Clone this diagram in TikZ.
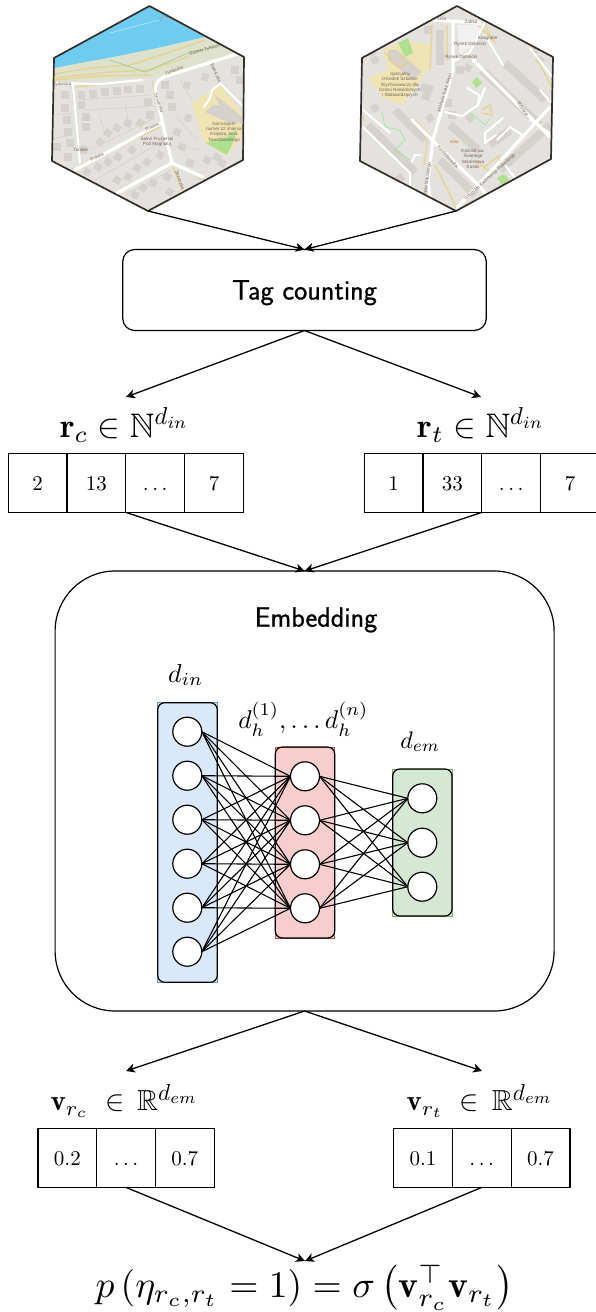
\documentclass[tikz,border=0pt]{standalone}
\usepackage{amsmath,amssymb}
\usepackage{fontspec}
\newfontfamily\mapfont{Liberation Sans}
\newfontfamily\labfont[FakeBold=0.8]{Latin Modern Sans}
\usetikzlibrary{arrows.meta,calc}
\definecolor{landc}{HTML}{E4E2DE}
\definecolor{bldc}{HTML}{D5D1CC}
\definecolor{waterc}{HTML}{6FCBF0}
\definecolor{stripc}{HTML}{DEE2CC}
\definecolor{schoolc}{HTML}{F0E4B4}
\definecolor{pitchc}{HTML}{AEE08F}
\definecolor{pathc}{HTML}{E6D28A}
\definecolor{parcelc}{HTML}{CFCCC4}
\definecolor{mapborder}{HTML}{332F2B}
\definecolor{maptext}{HTML}{7A6658}
\definecolor{bluefill}{HTML}{DAE8FC}
\definecolor{blueline}{HTML}{6C8EBF}
\definecolor{redfill}{HTML}{F8CECC}
\definecolor{redline}{HTML}{B85450}
\definecolor{greenfill}{HTML}{D5E8D4}
\definecolor{greenline}{HTML}{82B366}
\newcommand{\supin}{\scalebox{0.72}{$d_{in}$}}
\newcommand{\supem}{\scalebox{0.8}{$d_{em}$}}
\tikzset{
  x=1pt,y=-1pt,
  conn/.style={line width=1.3pt,-{Stealth[length=9pt,width=9pt,inset=2.5pt]}},
  cell/.style={draw,line width=1.2pt,minimum width=58.8pt,minimum height=58.8pt,inner sep=0,outer sep=0},
  cellnum/.style={scale=2.1,anchor=base,inner sep=0,outer sep=0},
  bigbox/.style={draw,line width=1.2pt,inner sep=0,outer sep=0},
  mathlab/.style={inner sep=0,outer sep=0},
  seclab/.style={inner sep=0,outer sep=0,anchor=base,font=\fontsize{28}{32}\labfont},
  neuron/.style={circle,draw,fill=white,line width=1.2pt,minimum size=29pt,inner sep=0,outer sep=0},
  synapse/.style={line width=1.1pt},
  road/.style={white,line width=3.2pt,line join=round,line cap=round},
  thinroad/.style={white,line width=2pt,line join=round,line cap=round},
  yroad/.style={pathc,line width=1.5pt,dash pattern=on 1.2pt off 0.5pt},
  parcel/.style={parcelc,line width=0.4pt},
  maplab/.style={text=maptext,inner sep=0,outer sep=0,font=\fontsize{4.6}{5.4}\mapfont,align=center},
  hexline/.style={mapborder,line width=1.7pt,line join=round},
  wide/.style={bldc,line width=8pt},
  panelrim/.style={line width=1.2pt,rounded corners=7pt}
}
\newcommand{\mybld}[3]{\fill[bldc,shift={(#1,#2)},rotate=#3] (-3.6,-3.6) rectangle (3.6,3.6);}
\begin{document}
\begin{tikzpicture}
\useasboundingbox (0,0) rectangle (595,1312);
\fill[white] (0,0) rectangle (595,1312);

% ---- Map 1
\begin{scope}
\clip (149.5,6) -- (244,57) -- (243,160) -- (148,211) -- (52,161) -- (54,58) -- cycle;
\fill[landc] (40,0) rectangle (250,215);
\fill[stripc] (50,68) -- (80,63) -- (113,57) -- (157,48) -- (205,37) -- (240,55) -- (165,76) -- (150,78) -- (50,82) -- cycle;
\fill[waterc] (50,69) -- (54,68) -- (80,63) -- (113,57) -- (157,48) -- (205,37) -- (149.5,0) -- (50,50) -- cycle;
\draw[white!70!waterc,line width=0.4pt] (110,33) -- (190,12);
\foreach \a/\b/\r in {81.7/95/0,81.7/105/0,93/94/0,105/92/0,117/91/0,128/89.5/0,140/89/0,86/117/0,86/127/0,108/133/-30,117/128/-30,128/123/-30,140/123/-30,150/115/0,148/102/0,100/142/-30,65/108/0,67/120/0,68/132/0,70/143/0,68/157/0,57/147/0,65/95/0,83/150/0,
 87/172/-30,98/167/-30,108/162/-30,118/157/-30,132/150/-30,147/162/-30,137/168/-30,160/155/-30,117/180/-30,128/177/-30,143/188/-30,153/183/-30,167/177/-30,135/195/-30,170/192/-30,
 165/85/0,170/95/0,172/107/0,187/85/-10,205/77/-10,188/118/-20,177/132/-20,182/147/-20,190/163/-20,207/160/-30,217/157/-30,222/163/-30,235/70/0,240/80/0}
 {\mybld{\a}{\b}{\r}}
\draw[parcel] (78,100) -- (150,95) (85,110) -- (155,106) (90,150) -- (155,118) (100,115) -- (105,135) (125,102) -- (130,130) (55,115) -- (72,113) (55,138) -- (72,135) (95,180) -- (165,140) (125,195) -- (172,170) (175,115) -- (197,140) (170,145) -- (200,150) (180,80) -- (192,100);
\fill[schoolc] (192,103) -- (220,85) -- (242,113) -- (242,137) -- (227,157) -- (203,140) -- cycle;
\fill[pitchc] (206,143) -- (222,137) -- (237,130) -- (233,142) -- (227,155) -- cycle;
\draw[schoolc,line width=1pt] (215,141) -- (235,133);
\fill[bldc] (213,93) -- (242,117) -- (242,123) -- (230,123) -- (205,112) -- (213,105) -- (220,105) -- cycle;
\draw[thinroad] (220,84) -- (212,90) -- (210,98) -- (204,107);
\draw[yroad] (54,74) -- (90,68) -- (130,65) -- (170,52) -- (205,40);
\draw[yroad] (54,78) -- (110,72) -- (150,70) -- (190,56);
\draw[yroad] (54,80) -- (100,76) -- (150,75);
\draw[green!45!black!45!white,line width=0.5pt] (110,60) -- (145,72) -- (190,52) -- (215,47);
\draw[yroad] (152,80) -- (158,105) (75,87) -- (95,85) (173,167) -- (182,190) (197,178) -- (205,180) (80,165) -- (160,127) (120,190) -- (170,165);
\draw[road] (240,53) -- (170,75) .. controls (158,78) and (154,84) .. (156,92) -- (163,125) -- (172,163) -- (203,177);
\draw[road] (75,170) -- (161,123);
\draw[road] (172,163) -- (117,193);
\draw[thinroad] (55,83) -- (100,84) -- (142,80);
\draw[thinroad] (73,85) -- (80,163);
\draw[thinroad] (220,83) -- (244,107);
\node[maplab,rotate=17] (m1a) at (205,50) {Bulwar Tyniecki};
\node[maplab,rotate=20] (m1b) at (174,71) {Tyniecka};
\node[maplab] (m1c) at (62,84) {Tyniecka};
\node[maplab,rotate=-65] (m1d) at (216,73) {Sawiczka};
\node[maplab,rotate=-72] (m1e) at (159,103) {Sewerzka};
\node[maplab,rotate=28] (m1f) at (97,157) {Praska};
\node[maplab,rotate=28] (m1g) at (152,127) {Praska};
\node[maplab,rotate=-70] (m1h) at (180,180) {Sewerzka};
\node[maplab] (m1i) at (81,150) {Tooiner};
\node[maplab] (m1j) at (157,142) {Salon Fryzjerski\\Pod Magnolią};
\node[maplab] (m1k) at (224,132) {Gimnazjum\\numer 22 imienia\\Księdza Jana\\Twardowskiego};
\node[maplab,rotate=15,text=waterc!50!maptext] (m1l) at (165,18) {Wisła};
\end{scope}
\draw[hexline] (149.5,6) -- (244,57) -- (243,160) -- (148,211) -- (52,161) -- (54,58) -- cycle;
\coordinate (hexa) at (148,211);

% ---- Map 2
\begin{scope}
\clip (457,6) -- (553,57) -- (551,159) -- (456,211) -- (360,161) -- (362,58) -- cycle;
\fill[landc] (350,0) rectangle (560,215);
\fill[schoolc] (383,50) -- (403,40) -- (430,45) -- (430,67) -- (403,105) -- (383,98) -- (368,78) -- (388,70) -- cycle;
\fill[pitchc] (398,43) -- (408,38) -- (413,53) -- (405,57) -- cycle;
\fill[bldc] (388,50) -- (397,50) -- (422,72) -- (413,80) -- (388,60) -- cycle;
\fill[pitchc] (472,82) -- (477,77) -- (482,83) -- (476,88) -- cycle;
\fill[pitchc] (497,178) -- (504,174) -- (509,180) -- (502,185) -- cycle;
\fill[blue!3!landc!40!white] (457,25) -- (482,24) -- (475,43) -- (460,55) -- cycle;
\draw[wide] (368,125) -- (415,172);
\draw[wide] (395,110) -- (425,140);
\draw[wide] (482,70) -- (540,125);
\draw[wide] (505,63) -- (545,100);
\draw[wide] (440,160) -- (475,195);
\draw[wide] (440,30) -- (440,65);
\draw[wide] (500,170) -- (550,125);
\draw[wide] (450,125) -- (478,150);
\draw[wide] (510,130) -- (490,145);
\draw[wide] (430,85) -- (425,100);
\foreach \a/\b/\r in {375/60/30,372/52/30,428/30/0,405/30/30,468/68/-30,460/70/0,425/88/0,430/118/30,448/103/0,540/60/60,535/50/60,470/118/40,452/115/0,375/108/30,400/178/30,395/195/0}
 {\mybld{\a}{\b}{\r}}
\draw[green!40!landc,line width=0.5pt] (382,112) -- (385,127) -- (400,130) -- (405,140) -- (395,150) -- (410,160) (470,112) -- (485,125) -- (490,118);
\draw[yroad] (432,25) -- (430,70) (447,25) -- (447,60) (485,25) -- (490,35) -- (493,40) -- (478,25) (530,45) -- (553,90) (415,120) -- (480,188) (428,135) -- (424,165) (435,165) -- (450,195) -- (456,208) (483,168) -- (500,155) (475,160) -- (490,172) -- (500,158) (482,110) -- (490,105) -- (492,115) -- (482,113) (400,55) -- (406,65) (362,115) -- (364,120) (384,52) -- (400,68) -- (408,62);
\draw[road] (433,20) -- (480,23) (453,23) -- (453,70) -- (433,140) -- (428,180) -- (432,215);
\draw[road] (473,60) -- (550,137);
\draw[road] (412,120) -- (480,187) -- (487,195);
\draw[road] (550,107) -- (457,208);
\draw[thinroad] (453,62) -- (470,52) -- (484,24);
\draw[thinroad] (530,48) -- (553,78);
\draw[thinroad] (363,127) -- (410,173) -- (410,195);
\draw[thinroad] (363,110) -- (390,133);
\draw[thinroad] (503,118) -- (485,133) -- (485,143) -- (496,135) (510,127) -- (497,140) (510,127) -- (522,135) (485,88) -- (478,105) -- (462,116) -- (445,112);
\draw[thinroad] (485,35) -- (500,60) -- (503,65);
\draw[thinroad] (540,90) -- (553,105) (530,120) -- (553,135);
\draw[thinroad] (467,88) -- (479,95) -- (478,105) (420,155) -- (415,155) -- (412,162);
\draw[thinroad] (505,165) -- (515,178);
\node[maplab] (m2a) at (471,22) {Żabka};
\node[maplab] (m2b) at (442,19) {Lisa};
\node[maplab] (m2c) at (470,44.5) {Rynek Dębnicki};
\node[maplab] (m2c2) at (461,57.5) {Rynek Dębnicki};
\node[maplab] (m2d) at (488,38.5) {Kaligrafer};
\node[maplab] (m2e) at (400,85) {Specjalny\\Ośrodek Szkolno-\\Wychowawczy dla\\Dzieci Niewidomych\\i Słabowidzących};
\node[maplab,rotate=73] (m2f) at (445,93) {Michała Bałuckiego};
\node[maplab,rotate=-52] (m2g) at (523,109) {Różana};
\node[maplab,text=orange!70!maptext] (m2h) at (454,141.5) {Vola};
\node[maplab] (m2i) at (473,159) {Kościół pw.\\Świętego\\Stanisława\\Kostki};
\node[maplab,rotate=-47] (m2j) at (448,157) {Konfederacka};
\node[maplab,rotate=42] (m2k) at (490,177) {Generała Kazimierza Pułaskiego};
\node[maplab,rotate=82] (m2l) at (427,182) {Michała Bałuckiego};
\end{scope}
\draw[hexline] (457,6) -- (553,57) -- (551,159) -- (456,211) -- (360,161) -- (362,58) -- cycle;
\coordinate (hexb) at (456,211);

% ---- Tag counting
\node[bigbox,rounded corners=12pt,minimum width=363.5pt,minimum height=81pt] (tag) at (304.5,290) {};
\node[seclab] (taglab) at (304.5,299.5) {Tag counting};
\draw[conn] (hexa) -- (tag.north);
\draw[conn] (hexb) -- (tag.north);

% ---- r rows
\node[mathlab,scale=3.4,anchor=base west] (rc) at (60,437) {$\mathbf{r}_{c}\in\mathbb{N}^{\supin}$};
\node[mathlab,scale=3.4,anchor=base west] (rt) at (417.5,437) {$\mathbf{r}_{t}\in\mathbb{N}^{\supin}$};
\foreach \n/\cx/\t in {a/37.7/2,b/96.4/13,c/155.2/\ldots,d/214/7}{
  \node[cell] (rc\n) at (\cx,483) {};
  \node[cellnum] (rc\n t) at (\cx,490) {$\t$};
}
\foreach \n/\cx/\t in {a/393.7/1,b/452.4/33,c/511.2/\ldots,d/570/7}{
  \node[cell] (rt\n) at (\cx,483) {};
  \node[cellnum] (rt\n t) at (\cx,490) {$\t$};
}
\coordinate (ra) at (126,397);
\coordinate (rb) at (481,397);
\draw[conn] (tag.south) -- (ra);
\draw[conn] (tag.south) -- (rb);

% ---- Embedding
\node[bigbox,rounded corners=60pt,minimum width=499pt,minimum height=440pt] (emb) at (304.6,791) {};
\node[seclab] (emblab) at (316,626.7) {Embedding};
\draw[conn] (rcb.south east) -- (emb.north);
\draw[conn] (rtb.south east) -- (emb.north);

% ---- Network panels
\draw[draw=blueline,fill=bluefill,line width=1pt] (157.7,702.7) rectangle (217.3,982.3);
\draw[draw=redline,fill=redfill,line width=1pt] (275.3,747) rectangle (334.7,938);
\draw[draw=greenline,fill=greenfill,line width=1pt] (392.7,769) rectangle (452,916);
\draw[panelrim] (157.7,702.7) rectangle (217.3,982.3);
\draw[panelrim] (275.3,747) rectangle (334.7,938);
\draw[panelrim] (392.7,769) rectangle (452,916);

\foreach \i/\y in {1/731.7,2/775.7,3/819.7,4/863.7,5/907.7,6/951.7}
  \node[neuron] (a\i) at (187.3,\y) {};
\foreach \i/\y in {1/776.3,2/820.3,3/864.3,4/908.3}
  \node[neuron] (b\i) at (305,\y) {};
\foreach \i/\y in {1/798.3,2/842.7,3/886.7}
  \node[neuron] (c\i) at (422.3,\y) {};
\foreach \i in {1,...,6}\foreach \j in {1,...,4}
  \draw[synapse] (a\i.east) -- (b\j.west);
\foreach \i in {1,...,4}\foreach \j in {1,...,3}
  \draw[synapse] (b\i.east) -- (c\j.west);

\node[mathlab,scale=2.6,anchor=base] (din) at (185.7,682) {$d_{in}$};
\node[mathlab,scale=2.57] (dh) at (303.3,719) {$d_h^{(1)},\dots d_h^{(n)}$};
\node[mathlab,scale=2.4,anchor=base] (dem) at (420.3,748) {$d_{em}$};

% ---- v rows
\coordinate (va) at (126,1071);
\coordinate (vb) at (482,1071);
\draw[conn] (emb.south) -- (va);
\draw[conn] (emb.south) -- (vb);
\node[mathlab,scale=2.9,anchor=base west] (vc) at (50.5,1110.7) {$\mathbf{v}_{r_c}\mkern5mu\in\mkern3mu\mathbb{R}^{\supem}$};
\node[mathlab,scale=2.9,anchor=base west] (vt) at (406.5,1110.7) {$\mathbf{v}_{r_t}\mkern5mu\in\mkern3mu\mathbb{R}^{\supem}$};
\foreach \n/\cx/\t in {a/67.4/0.2,b/126/\ldots,c/184.7/0.7}{
  \node[cell] (vc\n) at (\cx,1158) {};
  \node[cellnum] (vc\n t) at (\cx,1165) {$\t$};
}
\foreach \n/\cx/\t in {a/423/0.1,b/481.7/\ldots,c/540.5/0.7}{
  \node[cell] (vt\n) at (\cx,1158) {};
  \node[cellnum] (vt\n t) at (\cx,1165) {$\t$};
}
\node[mathlab,scale=3.75,anchor=base] (pf) at (304.5,1297) {$p\left(\eta_{r_c,r_t}=1\right)=\sigma\left(\mathbf{v}_{r_c}^{\top}\mathbf{v}_{r_t}\right)$};
\coordinate (ptop) at (305,1261);
\draw[conn] (vcb.south) -- (ptop);
\draw[conn] (vtb.south) -- (ptop);
\end{tikzpicture}
\end{document}
